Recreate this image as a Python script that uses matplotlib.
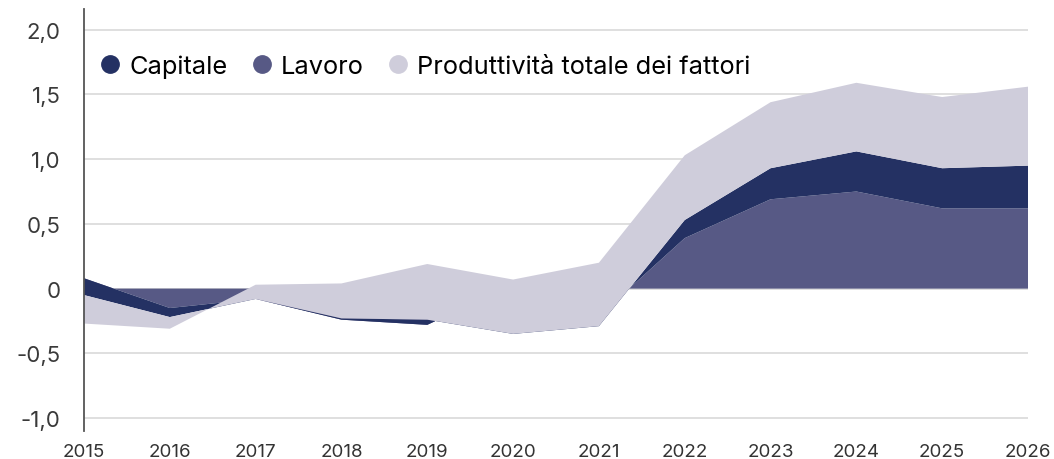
import matplotlib
matplotlib.use("Agg")
import matplotlib.pyplot as plt
from matplotlib.lines import Line2D

plt.rcParams['font.family'] = ['Inter', 'DejaVu Sans']

# data (contributi, punti percentuali)
years = [2015, 2016, 2017, 2018, 2019, 2020, 2021, 2022, 2023, 2024, 2025, 2026]
lavoro = [0.08, -0.15, -0.08, -0.24, -0.28, 0.03, -0.21, 0.39, 0.69, 0.75, 0.62, 0.62]
capitale = [-0.13, -0.07, 0.0, 0.01, 0.04, -0.38, -0.08, 0.14, 0.24, 0.31, 0.31, 0.33]
ptf = [-0.22, -0.09, 0.11, 0.27, 0.43, 0.42, 0.49, 0.50, 0.51, 0.53, 0.55, 0.61]

series_names = ['Capitale', 'Lavoro', 'Produttività totale dei fattori']
yticks = [-1.0, -0.5, 0, 0.5, 1.0, 1.5, 2.0]
ytick_labels = ['-1,0', '-0,5', '0', '0,5', '1,0', '1,5', '2,0']

c_navy = '#243163'
c_purple = '#575985'
c_gray = '#cfcddb'

fig = plt.figure(figsize=(10.54, 4.6), dpi=100)
ax = fig.add_axes([84 / 1054, 28 / 460, (1028 - 84) / 1054, (450 - 28) / 460])

# stacked areas: lavoro at the base, then capitale, then PTF
ax.stackplot(years, lavoro, capitale, ptf,
             colors=[c_purple, c_navy, c_gray], linewidth=0)

ax.set_xlim(2015, 2026)
ax.set_ylim(-1.1, 2.16)
ax.set_xticks(years)
ax.set_xticklabels([str(y) for y in years], fontsize=13.5, color='#333333')
ax.set_yticks(yticks)
ax.set_yticklabels(ytick_labels, fontsize=16, color='#3a3a3a')
ax.tick_params(axis='x', length=0, pad=9)
ax.tick_params(axis='y', length=0, pad=17)

ax.grid(axis='y', color='#d6d6d6', linewidth=1.1)
ax.grid(axis='x', visible=False)
ax.set_axisbelow(True)

for side in ['top', 'right', 'bottom']:
    ax.spines[side].set_visible(False)
ax.spines['left'].set_color('#555555')
ax.spines['left'].set_linewidth(1.3)

handles = [Line2D([], [], marker='o', linestyle='', markersize=12.5, color=c)
           for c in [c_navy, c_purple, c_gray]]
ax.legend(handles, series_names, loc='upper left', bbox_to_anchor=(-0.007, 0.935),
          ncol=3, frameon=False, fontsize=18.3, handletextpad=0.15,
          columnspacing=0.75, handlelength=1.2, borderaxespad=0.3)

fig.savefig('out.png', dpi=100)
